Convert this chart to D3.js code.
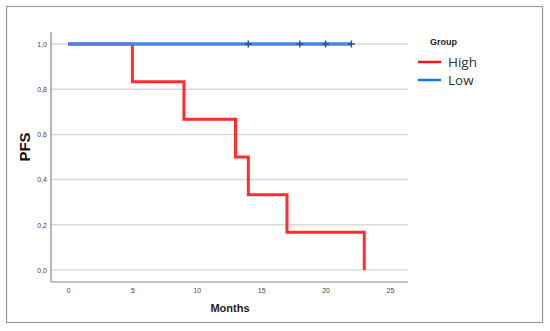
<!DOCTYPE html>
<html lang="en">
<head>
  <meta charset="UTF-8">
  <title>PFS by Group</title>
  <script src="https://d3js.org/d3.v7.min.js"></script>
  <style>
    body { margin: 0; background: #fff; font-family: Arial, "Liberation Sans", sans-serif; }
    svg { display: block; }
    .grid line { stroke: #d9d9d9; stroke-width: 1.5px; }
    .tick text { fill: #444; font-size: 7px; }
  </style>
</head>
<body>
  <svg width="550" height="331"></svg>
  <script>
    // High group: step times and survival after each drop
    const highTimes = [0, 5, 9, 13, 14, 17, 23];
    const highSurv = [1, 0.833, 0.667, 0.5, 0.333, 0.167, 0];
    // Low group: no events, censored at these months
    const lowTimes = [0, 22];
    const lowSurv = [1, 1];
    const lowCensored = [14, 18, 20, 22];

    const xTicks = [0, 5, 10, 15, 20, 25];
    const yTicks = [0, 0.2, 0.4, 0.6, 0.8, 1.0];
    const groups = ["High", "Low"];
    const colors = { High: "#ff2d2d", Low: "#4a86e0" };
    const legendColors = { High: "#f01818", Low: "#1a73f0" };

    const svg = d3.select("svg");

    // outer frame
    svg.append("rect")
      .attr("x", 6.5).attr("y", 6.5)
      .attr("width", 536).attr("height", 316)
      .attr("fill", "none")
      .attr("stroke", "#999").attr("stroke-width", 1.2);

    const x = d3.scaleLinear().domain([0, 25]).range([68, 390]);
    const y = d3.scaleLinear().domain([0, 1]).range([270, 44]);
    const axisX0 = 51, axisX1 = 408, axisY = 282, axisTop = 32;

    // gridlines
    svg.append("g").attr("class", "grid")
      .selectAll("line")
      .data(yTicks)
      .join("line")
      .attr("x1", axisX0).attr("x2", axisX1)
      .attr("y1", d => y(d)).attr("y2", d => y(d));

    // axis lines
    svg.append("line")
      .attr("x1", axisX0).attr("x2", axisX0)
      .attr("y1", axisTop).attr("y2", axisY)
      .attr("stroke", "#888").attr("stroke-width", 1.2);
    svg.append("line")
      .attr("x1", axisX0).attr("x2", axisX1)
      .attr("y1", axisY).attr("y2", axisY)
      .attr("stroke", "#888").attr("stroke-width", 1.2);

    // tick labels via d3 axes (no tick marks)
    const yAxis = svg.append("g")
      .attr("transform", `translate(${axisX0},0)`)
      .call(d3.axisLeft(y).tickValues(yTicks).tickSize(0).tickPadding(4)
        .tickFormat(d => d3.format(".1f")(d).replace(".", ",")));
    yAxis.select(".domain").remove();

    const xAxis = svg.append("g")
      .attr("transform", `translate(0,${axisY})`)
      .call(d3.axisBottom(x).tickValues(xTicks).tickSize(0).tickPadding(6));
    xAxis.select(".domain").remove();

    // axis titles
    svg.append("text")
      .attr("x", 230).attr("y", 312)
      .attr("text-anchor", "middle")
      .attr("font-size", 11).attr("font-weight", "bold")
      .attr("fill", "#222")
      .text("Months");

    svg.append("text")
      .attr("transform", "translate(30,147) rotate(-90)")
      .attr("text-anchor", "middle")
      .attr("font-size", 15).attr("font-weight", "bold")
      .attr("fill", "#111")
      .text("PFS");

    const step = d3.line()
      .x(d => x(d[0]))
      .y(d => y(d[1]))
      .curve(d3.curveStepAfter);

    // High curve
    svg.append("path")
      .datum(d3.zip(highTimes, highSurv))
      .attr("d", step)
      .attr("fill", "none")
      .attr("stroke", colors.High)
      .attr("stroke-width", 3);

    // Low curve (drawn over High where both are at 1.0)
    svg.append("path")
      .datum(d3.zip(lowTimes, lowSurv))
      .attr("d", step)
      .attr("fill", "none")
      .attr("stroke", colors.Low)
      .attr("stroke-width", 3.6);

    // censor marks
    const cens = svg.append("g")
      .selectAll("g")
      .data(lowCensored)
      .join("g")
      .attr("transform", d => `translate(${x(d)},${y(1)})`);
    cens.append("line").attr("x1", -3.5).attr("x2", 3.5)
      .attr("stroke", "#2f4f8f").attr("stroke-width", 1.5);
    cens.append("line").attr("y1", -3.5).attr("y2", 3.5)
      .attr("stroke", "#2f4f8f").attr("stroke-width", 1.5);

    // legend
    svg.append("text")
      .attr("x", 430).attr("y", 45)
      .attr("font-size", 9).attr("font-weight", "bold")
      .attr("fill", "#222")
      .text("Group");

    const leg = svg.append("g")
      .selectAll("g")
      .data(groups)
      .join("g")
      .attr("transform", (d, i) => `translate(418,${62 + i * 18})`);
    leg.append("line")
      .attr("x1", 0).attr("x2", 23)
      .attr("stroke", d => legendColors[d])
      .attr("stroke-width", 2.5);
    leg.append("text")
      .attr("x", 30).attr("y", 5)
      .attr("font-family", "'Open Sans', sans-serif")
      .attr("font-size", 13.5)
      .attr("fill", "#333")
      .text(d => d);
  </script>
</body>
</html>
